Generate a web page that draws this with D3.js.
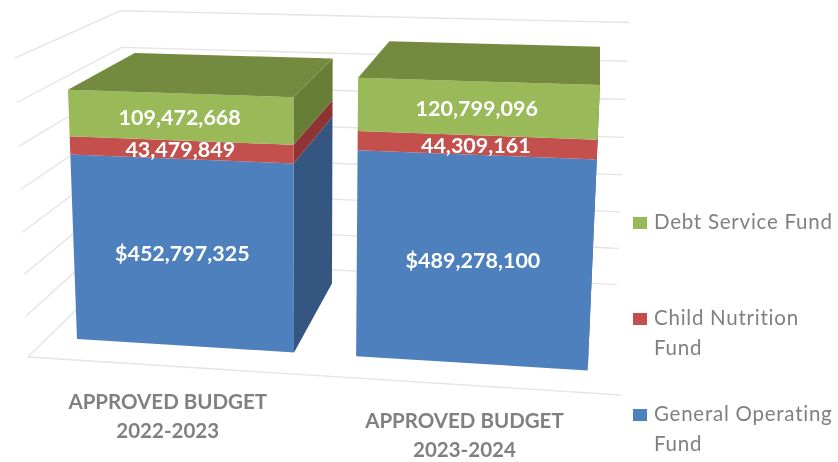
<!DOCTYPE html>
<html><head><meta charset="utf-8">
<script src="https://cdn.jsdelivr.net/npm/d3@7/dist/d3.min.js"></script>
<style>html,body{margin:0;padding:0;background:#fff}svg{display:block;filter:blur(0.45px)}text{font-family:Lato,sans-serif}</style>
</head><body><svg id="c" width="838" height="462"></svg>
<script>
const categories = [["APPROVED BUDGET","2022-2023"],["APPROVED BUDGET","2023-2024"]];
const seriesNames = ["General Operating Fund","Child Nutrition Fund","Debt Service Fund"];
const generalOperating = [452797325,489278100];
const childNutrition = [43479849,44309161];
const debtService = [109472668,120799096];
const valueLabels = [["$452,797,325","$489,278,100"],["43,479,849","44,309,161"],["109,472,668","120,799,096"]];
const gridTicks = [0,100e6,200e6,300e6,400e6,500e6,600e6,700e6];
const legendLines = [["Debt Service Fund"],["Child Nutrition","Fund"],["General Operating","Fund"]];

const frontColors = ["#4e80bd","#c4504e","#9aba5a"];
const sideColors = ["#345680","#8e3434","#667e35"];
const topColor = "#748b3f";
const gridColor = "#e4e4e4";

// perspective camera: vanishing points for the three world axes
const vpX=[-8500,-190], vpY=[311,6800], vpZ=[600,-204], origin=[77,339];
const kX=-0.02468, kY=-6.13e-5, kZ=0.138;
function project(X,Y,Z){
  const a=kX*X,b=kY*Y,c=kZ*Z,w=1+a+b+c;
  return [(a*vpX[0]+b*vpY[0]+c*vpZ[0]+origin[0])/w,
          (a*vpX[1]+b*vpY[1]+c*vpZ[1]+origin[1])/w];
}
const xBand=d3.scaleBand().domain(categories.map((d,i)=>i)).range([0,2.277]).paddingInner(0.217);
const yVal=d3.scaleLinear().domain([0,700e6]).range([0,700]);
const wallL=-0.137, wallR=2.413, floorFront=-0.256, wallBack=1.225;

const svg=d3.select("#c");
const line=d3.line();
const closed=d3.line().curve(d3.curveLinearClosed);

// grid
const grid=svg.append("g").attr("fill","none").attr("stroke",gridColor).attr("stroke-width",1.4);
grid.selectAll("path.g").data(gridTicks).join("path").attr("class","g")
  .attr("d",t=>line([project(wallL,yVal(t),floorFront),project(wallL,yVal(t),wallBack),project(wallR,yVal(t),wallBack)]));
grid.append("path").attr("d",line([project(wallL,0,floorFront),project(wallR,0,floorFront)]));

// bars
const stackData=[generalOperating,childNutrition,debtService];
categories.forEach((cat,i)=>{
  const x0=xBand(i),x1=x0+xBand.bandwidth();
  let base=0;
  const g=svg.append("g");
  const segs=stackData.map((s,k)=>{const r={k,lo:base,hi:base+s[i]};base+=s[i];return r;});
  segs.forEach(s=>{
    const lo=yVal(s.lo),hi=yVal(s.hi);
    g.append("path").attr("fill",sideColors[s.k]).attr("d",closed([project(x1,lo,0),project(x1,lo,1),project(x1,hi,1),project(x1,hi,0)]));
    g.append("path").attr("fill",frontColors[s.k]).attr("d",closed([project(x0,lo,0),project(x1,lo,0),project(x1,hi,0),project(x0,hi,0)]));
  });
  const top=yVal(base);
  g.append("path").attr("fill",topColor).attr("d",closed([project(x0,top,0),project(x1,top,0),project(x1,top,1),project(x0,top,1)]));
  segs.forEach(s=>{
    const p=project((x0+x1)/2,yVal((s.lo+s.hi)/2),0);
    g.append("text").attr("x",p[0]).attr("y",p[1]).attr("dy","0.36em").attr("text-anchor","middle")
      .attr("font-size",21.5).attr("font-weight",700).attr("fill","#fff").text(valueLabels[s.k][i]);
  });
  const a=project((x0+x1)/2,0,floorFront);
  const t=svg.append("text").attr("text-anchor","middle").attr("font-size",20.5).attr("font-weight",700).attr("fill","#808080");
  cat.forEach((l,j)=>t.append("tspan").attr("x",a[0]-1).attr("y",a[1]+43+j*29).text(l));
});

// legend
const legendY=[229,325,421];
[0,1,2].forEach(i=>{
  svg.append("rect").attr("x",633).attr("y",legendY[i]-12).attr("width",14).attr("height",12)
    .attr("fill",frontColors[2-i]);
  const t=svg.append("text").attr("font-size",20.5).attr("fill","#808080").attr("letter-spacing",0.75);
  legendLines[i].forEach((l,j)=>t.append("tspan").attr("x",654).attr("y",legendY[i]+j*30).text(l));
});
</script></body></html>
